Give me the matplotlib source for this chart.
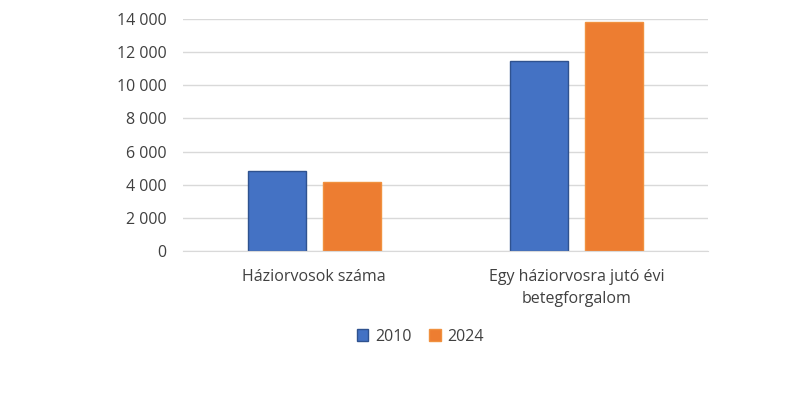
import matplotlib.pyplot as plt
import numpy as np
from matplotlib.ticker import FuncFormatter

categories = ["Háziorvosok száma", "Egy háziorvosra jutó évi\nbetegforgalom"]
years = ["2010", "2024"]
values_2010 = [4850, 11470]
values_2024 = [4170, 13820]

plt.rcParams["font.family"] = ["Open Sans", "DejaVu Sans"]

fig = plt.figure(figsize=(8.08, 4.0), dpi=100)
ax = fig.add_axes([0.2265, 0.3725, 0.6498, 0.58])

x = np.arange(len(categories))
w = 0.221
ax.bar(x - 0.143, values_2010, w, color="#4472C4", edgecolor="#2F528F", linewidth=1, label=years[0], zorder=3)
ax.bar(x + 0.143, values_2024, w, color="#ED7D31", edgecolor="#F0913F", linewidth=1, label=years[1], zorder=3)

ax.set_xlim(-0.5, 1.5)
ax.set_ylim(0, 14000)
ax.set_yticks(np.arange(0, 14001, 2000))
ax.yaxis.set_major_formatter(FuncFormatter(lambda v, p: f"{int(v):,}".replace(",", " ")))
ax.set_xticks(x)
ax.set_xticklabels(categories, linespacing=1.5)
ax.tick_params(axis="both", length=0, labelsize=11.5, colors="#404040")
ax.tick_params(axis="y", pad=12)
ax.tick_params(axis="x", pad=13)
ax.grid(axis="y", color="#d9d9d9", linewidth=1, zorder=0)
for s in ["top", "right", "left"]:
    ax.spines[s].set_visible(False)
ax.spines["bottom"].set_color("#d9d9d9")
ax.spines["bottom"].set_zorder(4)

fig.legend(loc="center", bbox_to_anchor=(0.52, 0.158), ncol=2, frameon=False,
           fontsize=11.5, handlelength=0.75, handleheight=0.75, columnspacing=1.1,
           handletextpad=0.4, labelcolor="#404040")

fig.savefig("out.png", dpi=100)
